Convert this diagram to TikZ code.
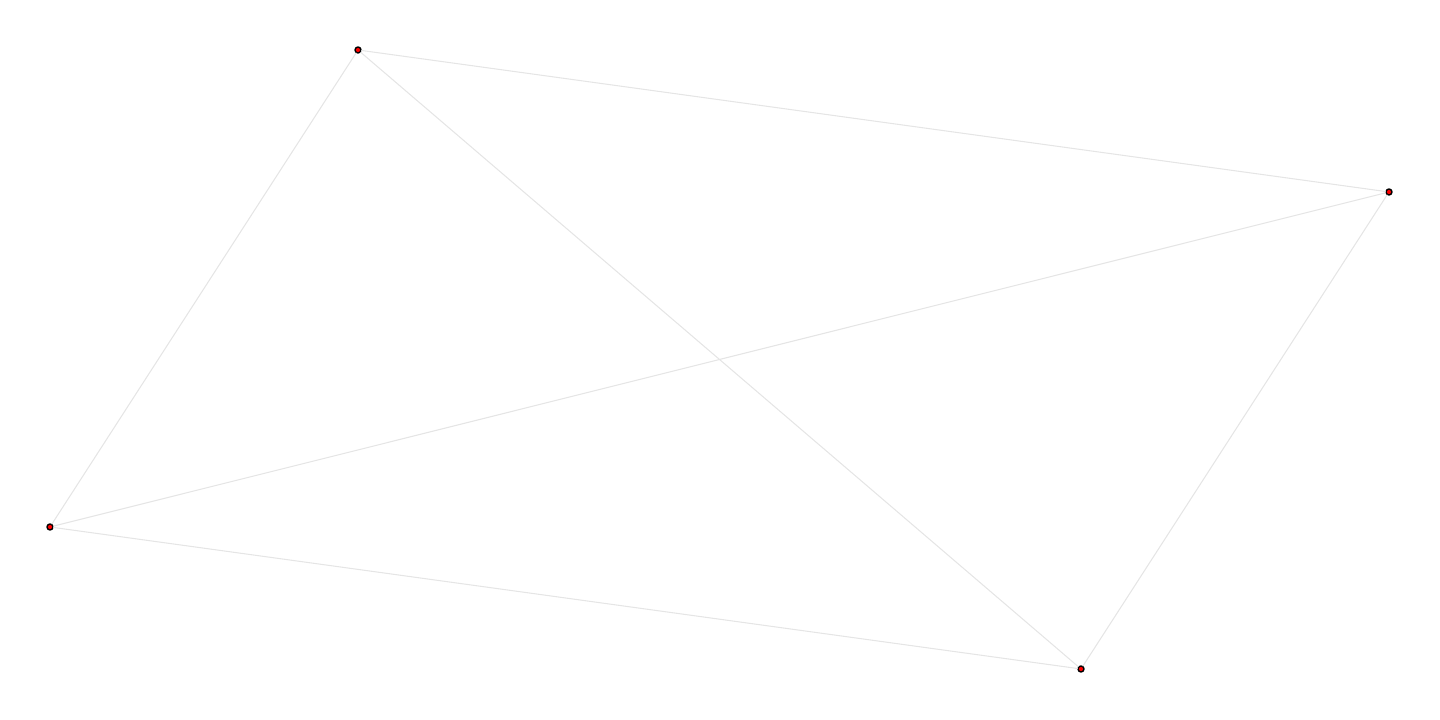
\documentclass[tikz,border=0pt]{standalone}
\begin{document}
\begin{tikzpicture}[line join=round, line cap=round]
\tikzset{vertex/.style={circle, draw=black, fill=red, line width=0.4pt, inner sep=0pt, minimum size=0.6mm},
  edge/.style={draw=black!10, line width=0.3pt}}
% Khung hình
\useasboundingbox (0,0) rectangle (14.4,7.2);
% Các đỉnh
\node[vertex] (a) at (3.58,6.70) {};
\node[vertex] (b) at (13.89,5.28) {};
\node[vertex] (c) at (0.50,1.93) {};
\node[vertex] (d) at (10.81,0.51) {};
% Các cạnh
\foreach \u/\v in {a/b, a/c, a/d, b/c, b/d, c/d}
  \draw[edge] (\u) -- (\v);
\end{tikzpicture}
\end{document}
